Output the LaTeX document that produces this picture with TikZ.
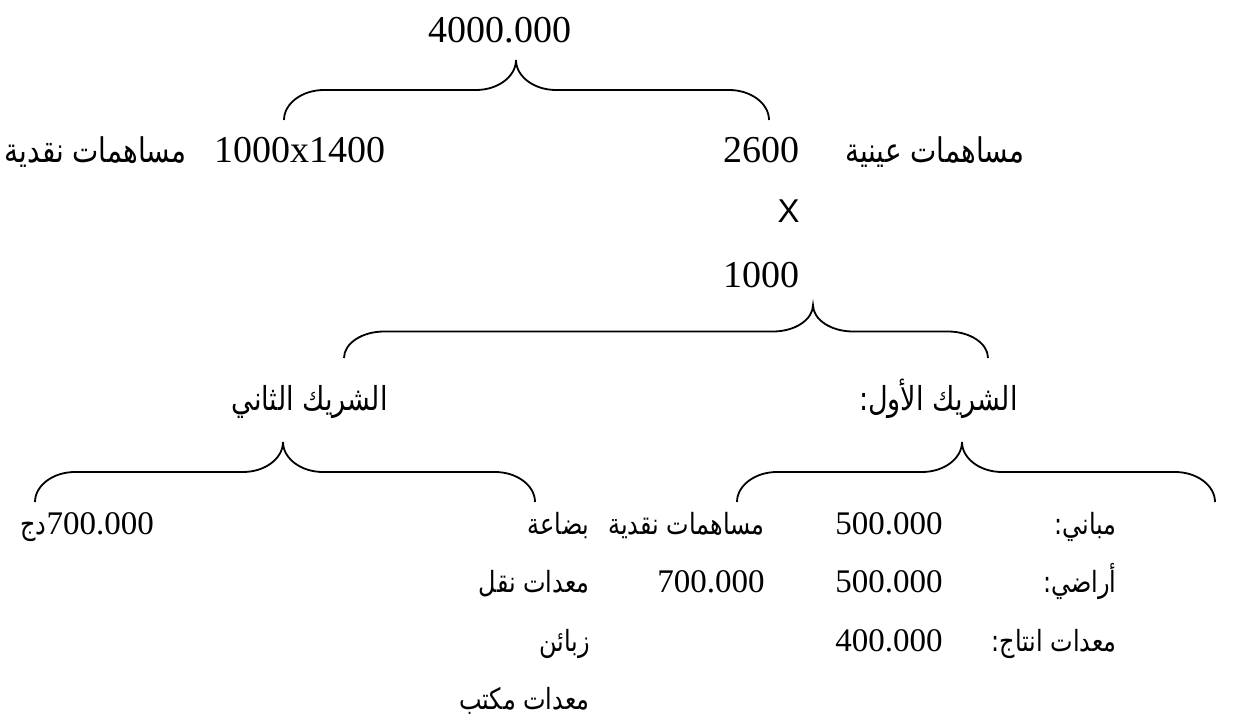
\documentclass[tikz,border=0pt]{standalone}
\usepackage{fontspec}
\usetikzlibrary{calc}
\setmainfont{Liberation Serif}
\newfontfamily\arfont[Script=Arabic,FakeStretch=0.82]{DejaVu Sans}
\newfontfamily\xfont{Liberation Sans}
\TeXXeTstate=1
\newcommand{\artxt}[1]{{\arfont\beginR #1\endR}}
% curl and cusp widths of the braces
\newcommand{\bcurl}{20pt}
\newcommand{\bcusp}{20pt}
% brace over a group: left end, tip, right end
\newcommand{\groupbrace}[3]{%
  \draw[brace line] let \p1=(#1), \p2=(#2), \p3=(#3), \p4=($(#1)!0.5!(#2)$) in
    (\p1) .. controls (\x1,{\y1+0.55*((\y4)-(\y1))}) and ({\x1+0.45*\bcurl},\y4) .. ({\x1+\bcurl},\y4)
    -- ({\x2-\bcusp},\y4) .. controls ({\x2-0.45*\bcusp},\y4) and (\x2,{\y4+0.45*((\y2)-(\y4))}) .. (\p2)
    .. controls (\x2,{\y4+0.45*((\y2)-(\y4))}) and ({\x2+0.45*\bcusp},\y4) .. ({\x2+\bcusp},\y4)
    -- ({\x3-\bcurl},\y4) .. controls ({\x3-0.45*\bcurl},\y4) and (\x3,{\y3+0.55*((\y4)-(\y3))}) .. (\p3);
}

\begin{document}
\begin{tikzpicture}[x=0.5pt,y=-0.5pt,
  txt/.style={inner sep=0pt,anchor=base east,font=\fontsize{19}{22}\selectfont},
  val/.style={txt,font=\fontsize{16.5}{20}\selectfont},
  artop/.style={txt,font=\fontsize{17}{20}\selectfont},
  arhead/.style={txt,font=\fontsize{16.5}{20}\selectfont},
  arlow/.style={txt,font=\fontsize{14.6}{18}\selectfont},
  brace line/.style={line width=0.9pt}]
  \useasboundingbox (0,0) rectangle (1243,727);
  % capital
  \node[txt,anchor=base] (total) at (500,43) {4000.000};
  \coordinate (total tip) at (516,60);
  \coordinate (cash end) at (284,120);
  \coordinate (kind end) at (769,120);
  \groupbrace{cash end}{total tip}{kind end}
  \node[artop] (cashlbl) at (187,163) {\artxt{مساهمات نقدية}};
  \node[txt] (cashval) at (386,163) {1000x1400};
  \node[txt] (kindval) at (800,163) {2600};
  \node[artop] (kindlbl) at (1025,163) {\artxt{مساهمات عينية}};
  \node[txt,font=\fontsize{16.5}{20}\selectfont\xfont] (times) at (800,223) {X};
  \node[txt] (shares) at (800,288) {1000};
  % partners
  \coordinate (shares tip) at (813,305);
  \coordinate (second end) at (344,358);
  \coordinate (first end) at (988,358);
  \groupbrace{second end}{shares tip}{first end}
  \node[arhead] (second) at (388,410) {\artxt{الشريك الثاني}};
  \node[arhead] (first) at (1018,410) {\artxt{الشريك الأول:}};
  % second partner
  \coordinate (second tip) at (283,442);
  \coordinate (second left) at (35,502);
  \coordinate (second right) at (535,502);
  \groupbrace{second left}{second tip}{second right}
  \node[val,anchor=base west] (goodsval) at (20,534) {{\fontsize{14.6}{18}\selectfont\artxt{دج}}700.000};
  \foreach \i/\lbl/\y in {1/بضاعة/534, 2/معدات نقل/592, 3/زبائن/651, 4/معدات مكتب/709}
    \node[arlow] (goods\i) at (590,\y) {\artxt{\lbl}};
  % first partner
  \coordinate (first tip) at (962,442);
  \coordinate (first left) at (737,502);
  \coordinate (first right) at (1215,502);
  \groupbrace{first left}{first tip}{first right}
  \foreach \i/\lbl/\val/\y in {1/مباني:/500.000/534, 2/أراضي:/500.000/592, 3/معدات انتاج:/400.000/651}{
    \node[arlow] (asset\i) at (1117,\y) {\artxt{\lbl}};
    \node[val] (value\i) at (943,\y) {\val};
  }
  \node[arlow] (cash1lbl) at (765,534) {\artxt{مساهمات نقدية}};
  \node[val] (cash1val) at (765,592) {700.000};
\end{tikzpicture}
\end{document}
